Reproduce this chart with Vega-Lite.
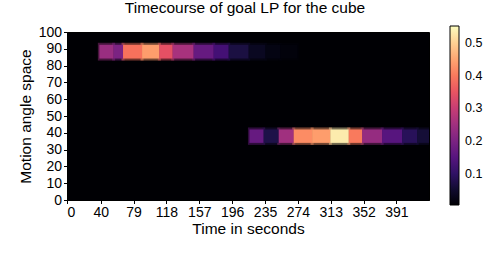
{
  "$schema": "https://vega.github.io/schema/vega-lite/v6.json",
  "autosize": {"type": "none"},
  "padding": {"left": 67, "top": 32, "right": 69, "bottom": 55},
  "width": 362,
  "height": 168,
  "background": "white",
  "title": {"text": "Timecourse of goal LP for the cube", "font": "Liberation Sans", "fontSize": 15.5, "fontWeight": "normal", "color": "black", "offset": 9, "dx": -3},
  "config": {
    "view": {"fill": "#000004", "stroke": "black", "strokeWidth": 1},
    "axis": {"labelFont": "Liberation Sans", "titleFont": "Liberation Sans", "labelFontSize": 14, "titleFontSize": 15.5, "titleFontWeight": "normal", "labelColor": "black", "titleColor": "black", "domainColor": "black", "tickColor": "black", "tickSize": 3.5, "grid": false, "labelPadding": 2}
  },
  "data": {"values": [
    {"band": "goal 88", "t0": 38.4, "t1": 55.3, "a0": 84.2, "a1": 92.4, "lp": 0.24},
    {"band": "goal 88", "t0": 55.3, "t1": 66.5, "a0": 84.2, "a1": 92.4, "lp": 0.2},
    {"band": "goal 88", "t0": 66.5, "t1": 89.1, "a0": 84.2, "a1": 92.4, "lp": 0.39},
    {"band": "goal 88", "t0": 89.1, "t1": 109.6, "a0": 84.2, "a1": 92.4, "lp": 0.44},
    {"band": "goal 88", "t0": 109.6, "t1": 125.4, "a0": 84.2, "a1": 92.4, "lp": 0.345},
    {"band": "goal 88", "t0": 125.4, "t1": 150.3, "a0": 84.2, "a1": 92.4, "lp": 0.26},
    {"band": "goal 88", "t0": 150.3, "t1": 174.1, "a0": 84.2, "a1": 92.4, "lp": 0.17},
    {"band": "goal 88", "t0": 174.1, "t1": 191.9, "a0": 84.2, "a1": 92.4, "lp": 0.125},
    {"band": "goal 88", "t0": 191.9, "t1": 215.6, "a0": 84.2, "a1": 92.4, "lp": 0.07},
    {"band": "goal 88", "t0": 215.6, "t1": 235.5, "a0": 84.2, "a1": 92.4, "lp": 0.038},
    {"band": "goal 88", "t0": 235.5, "t1": 253.3, "a0": 84.2, "a1": 92.4, "lp": 0.022},
    {"band": "goal 88", "t0": 253.3, "t1": 273.5, "a0": 84.2, "a1": 92.4, "lp": 0.013},
    {"band": "goal 38", "t0": 216.5, "t1": 233.4, "a0": 34.0, "a1": 42.0, "lp": 0.17},
    {"band": "goal 38", "t0": 233.4, "t1": 251.3, "a0": 34.0, "a1": 42.0, "lp": 0.075},
    {"band": "goal 38", "t0": 251.3, "t1": 269.1, "a0": 34.0, "a1": 42.0, "lp": 0.25},
    {"band": "goal 38", "t0": 269.1, "t1": 290.9, "a0": 34.0, "a1": 42.0, "lp": 0.42},
    {"band": "goal 38", "t0": 290.9, "t1": 312.6, "a0": 34.0, "a1": 42.0, "lp": 0.44},
    {"band": "goal 38", "t0": 312.6, "t1": 334.4, "a0": 34.0, "a1": 42.0, "lp": 0.53},
    {"band": "goal 38", "t0": 334.4, "t1": 350.3, "a0": 34.0, "a1": 42.0, "lp": 0.4},
    {"band": "goal 38", "t0": 350.3, "t1": 374.0, "a0": 34.0, "a1": 42.0, "lp": 0.235},
    {"band": "goal 38", "t0": 374.0, "t1": 397.8, "a0": 34.0, "a1": 42.0, "lp": 0.15},
    {"band": "goal 38", "t0": 397.8, "t1": 415.6, "a0": 34.0, "a1": 42.0, "lp": 0.09},
    {"band": "goal 38", "t0": 415.6, "t1": 429.6, "a0": 34.0, "a1": 42.0, "lp": 0.06}
  ]},
  "encoding": {
    "x": {"field": "t0", "type": "quantitative", "scale": {"domain": [0, 429.6], "nice": false, "zero": false},
      "axis": {"title": "Time in seconds", "values": [0, 40, 79, 118, 157, 196, 235, 274, 313, 352, 391], "format": "d", "titlePadding": 2}},
    "x2": {"field": "t1"},
    "y": {"field": "a0", "type": "quantitative", "scale": {"domain": [0, 100], "nice": false},
      "axis": {"title": "Motion angle space", "values": [0, 10, 20, 30, 40, 50, 60, 70, 80, 90, 100], "titlePadding": 5}},
    "y2": {"field": "a1"},
    "color": {"field": "lp", "type": "quantitative", "scale": {"scheme": "magma", "domain": [0.005, 0.551]},
      "legend": {"type": "gradient", "title": null, "orient": "none", "legendX": 383, "legendY": -6, "direction": "vertical", "gradientLength": 179, "gradientThickness": 9, "gradientStrokeColor": "black", "gradientStrokeWidth": 1, "values": [0.1, 0.2, 0.3, 0.4, 0.5], "labelFont": "Liberation Sans", "labelFontSize": 12.5, "labelColor": "black", "labelOffset": 6,
        "encode": {"gradient": {"update": {"opacity": {"value": 1}}}}}}
  },
  "layer": [
    {"mark": {"type": "rect", "opacity": 0.45, "clip": true, "yOffset": 2, "y2Offset": -2, "xOffset": -1.5, "x2Offset": 1.5}},
    {"mark": {"type": "rect", "clip": true}}
  ]
}
